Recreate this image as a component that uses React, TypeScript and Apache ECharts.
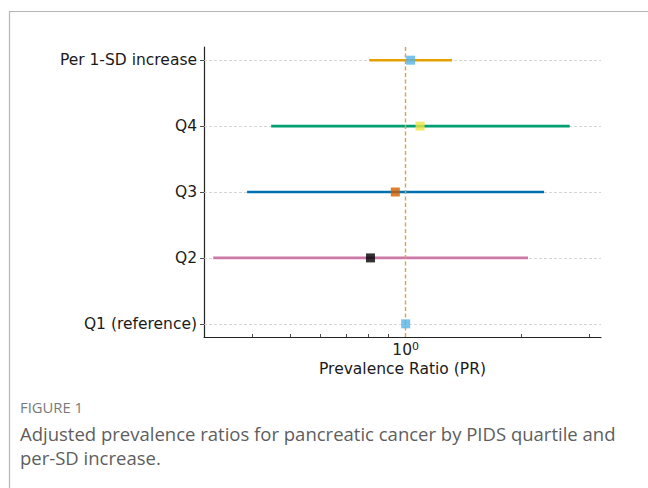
import React, { useEffect, useRef } from "react";
import * as echarts from "echarts";

const categories = ["Per 1-SD increase", "Q4", "Q3", "Q2", "Q1 (reference)"];
const estimates = [1.03, 1.09, 0.94, 0.81, 1.0];
const lowerCI = [0.804, 0.447, 0.387, 0.316, null];
const upperCI = [1.32, 2.67, 2.29, 2.08, null];
const lineColors = ["#E69F00", "#009E73", "#0072B2", "#CC79A7", "#999999"];
const markerColors = ["#56B4E9", "#F0E442", "#D55E00", "#000000", "#56B4E9"];
const xTickValues = [0.4, 0.5, 0.6, 0.7, 0.8, 0.9, 1, 2, 3];
const xLabelValues = [1];
const xRange = [0.299, 3.22];
const referenceValue = 1;
const xAxisTitle = "Prevalence Ratio (PR)";
const figureLabel = "FIGURE 1";
const captionLines = [
  "Adjusted prevalence ratios for pancreatic cancer by PIDS quartile and",
  "per-SD increase.",
];

const L = (v: number) => Math.log10(v);

export default function App() {
  const ref = useRef<HTMLDivElement>(null);
  useEffect(() => {
    if (!ref.current) return;
    const chart = echarts.init(ref.current, undefined, { renderer: "svg" });
    const ciSeries: any[] = [];
    categories.forEach((c, i) => {
      const lo = lowerCI[i];
      const hi = upperCI[i];
      if (lo == null || hi == null) return;
      ciSeries.push({
        type: "line",
        name: c + " CI",
        data: [
          [L(lo), i],
          [L(hi), i],
        ],
        symbol: "none",
        lineStyle: { color: lineColors[i], width: 2.6, cap: "butt" },
        z: 3,
        silent: true,
      });
    });
    const font = "DejaVu Sans";
    chart.setOption({
      animation: false,
      backgroundColor: "#ffffff",
      grid: { left: 204, right: 47, top: 47, bottom: 151, containLabel: false },
      xAxis: {
        type: "value",
        min: L(xRange[0]),
        max: L(xRange[1]),
        axisLine: { show: true, onZero: false, lineStyle: { color: "#222", width: 1.2 } },
        axisTick: {
          show: true,
          inside: true,
          length: 3,
          customValues: xTickValues.map(L),
          lineStyle: { color: "#222", width: 0.8 },
        },
        axisLabel: {
          customValues: xLabelValues.map(L),
          formatter: (v: number) => "{a|10}{b|" + Math.round(v) + "}",
          rich: {
            a: { fontFamily: font, fontSize: 15.5, lineHeight: 18, color: "#222" },
            b: { fontFamily: font, fontSize: 11, lineHeight: 11, color: "#222", verticalAlign: "top" },
          },
          margin: 4,
        },
        splitLine: { show: false },
      },
      yAxis: {
        type: "value",
        min: -0.2,
        max: 4.2,
        inverse: true,
        axisLine: { show: true, onZero: false, lineStyle: { color: "#222", width: 1.2 } },
        axisTick: {
          show: true,
          length: 4,
          customValues: categories.map((_, i) => i),
          lineStyle: { color: "#222", width: 0.8 },
        },
        axisLabel: {
          customValues: categories.map((_, i) => i),
          formatter: (v: number) => categories[Math.round(v)] ?? "",
          fontFamily: font,
          fontSize: 15.5,
          color: "#1a1a1a",
          margin: 7,
        },
        splitLine: { show: false },
      },
      series: [
        {
          type: "line",
          name: "grid",
          data: [],
          z: 1,
          silent: true,
          markLine: {
            silent: true,
            z: 1,
            symbol: "none",
            label: { show: false },
            lineStyle: { color: "#cccccc", type: [3, 2], width: 0.8 },
            data: categories.map((_, i) => ({ yAxis: i })),
          },
        },
        ...ciSeries,
        {
          type: "line",
          name: "ref",
          data: [],
          z: 4,
          silent: true,
          markLine: {
            silent: true,
            z: 4,
            symbol: "none",
            label: { show: false },
            lineStyle: { color: "#d9a441", type: [4, 2.5], width: 1.4 },
            data: [{ xAxis: L(referenceValue) }],
          },
        },
        {
          type: "scatter",
          name: "PR",
          symbol: "rect",
          symbolSize: 9,
          z: 6,
          data: estimates.map((e, i) => ({
            value: [L(e), i],
            itemStyle: { color: markerColors[i] },
          })),
        },
      ],
      graphic: [
        {
          type: "polyline",
          shape: { points: [[9.5, 488], [9.5, 11.5], [648, 11.5]] },
          style: { stroke: "#b5b5b5", lineWidth: 1.2, fill: "none" },
          silent: true,
        },
        {
          type: "text",
          x: 402.5,
          y: 369,
          style: {
            text: xAxisTitle,
            font: "15.5px 'DejaVu Sans', sans-serif",
            fill: "#1a1a1a",
            align: "center",
            verticalAlign: "middle",
          },
        },
        {
          type: "text",
          x: 20,
          y: 407,
          style: {
            text: figureLabel,
            font: "14.8px 'Open Sans', sans-serif",
            fill: "#7a7a7a",
            align: "left",
            verticalAlign: "middle",
          },
        },
        ...captionLines.map((t, k) => ({
          type: "text",
          x: 20,
          y: 433 + k * 24,
          style: {
            text: t,
            font: "18.5px 'Open Sans', sans-serif",
            fill: "#5e5e5e",
            align: "left",
            verticalAlign: "middle",
          },
        })),
      ],
    });
    return () => chart.dispose();
  }, []);
  return (
    <div
      ref={ref}
      style={{ position: "fixed", left: 0, top: 0, width: 648, height: 488, background: "#fff" }}
    />
  );
}
